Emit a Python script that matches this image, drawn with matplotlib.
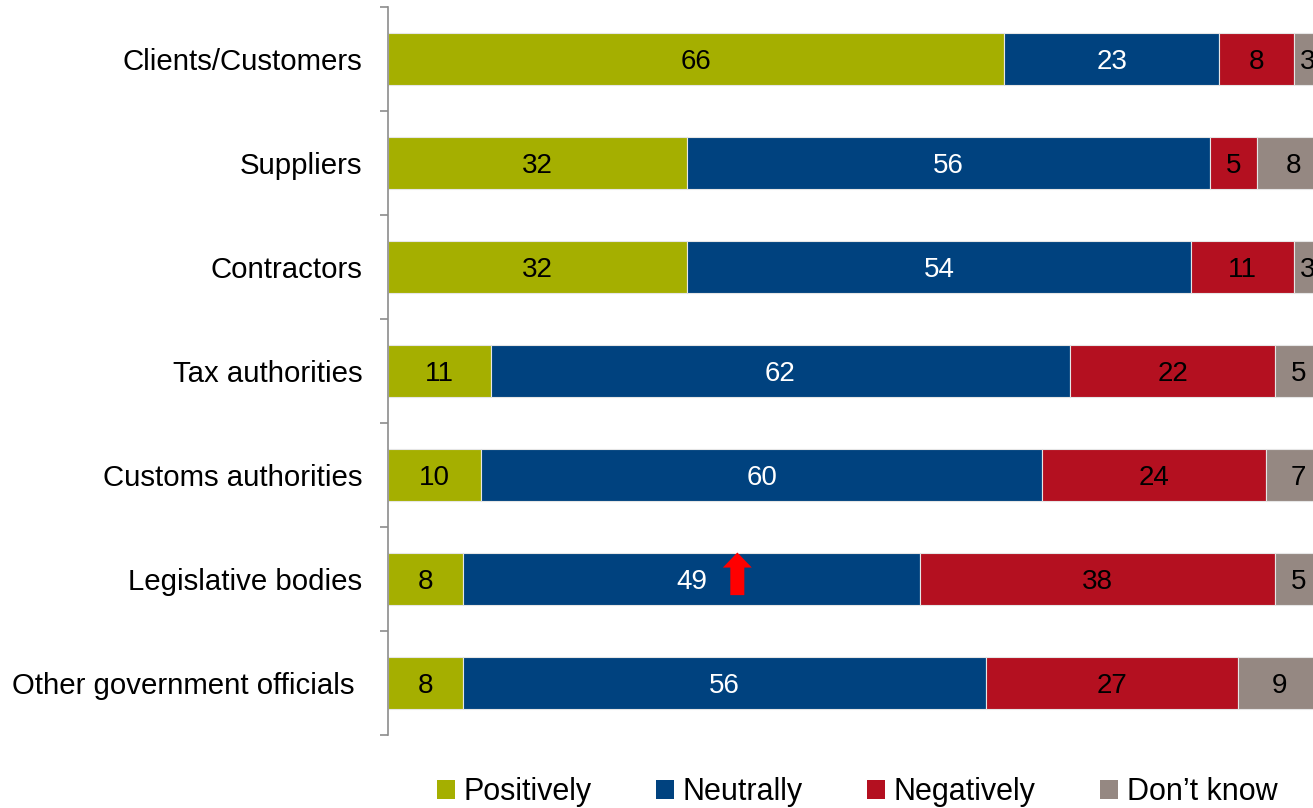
import matplotlib.pyplot as plt
from matplotlib.patches import Patch

plt.rcParams['font.family'] = ['Liberation Sans', 'DejaVu Sans']

# survey shares (%) per stakeholder group
groups = ['Clients/Customers', 'Suppliers', 'Contractors', 'Tax authorities',
          'Customs authorities', 'Legislative bodies', 'Other government officials ']
positively = [66, 32, 32, 11, 10, 8, 8]
neutrally = [23, 56, 54, 62, 60, 49, 56]
negatively = [8, 5, 11, 22, 24, 38, 27]
dont_know = [3, 8, 3, 5, 7, 5, 9]

series = ['Positively', 'Neutrally', 'Negatively', 'Don\u2019t know']
values = [positively, neutrally, negatively, dont_know]
colors = ['#A5AF00', '#00427F', '#B41020', '#958882']
text_colors = ['black', 'white', 'black', 'black']

fig = plt.figure(figsize=(13.13, 8.08), dpi=100)
# axes runs slightly past the right edge of the figure
ax = fig.add_axes([388 / 1313, 73 / 808, 934 / 1313, 728 / 808])

y = list(range(len(groups)))
left = [0] * len(groups)
for vals, col, tcol in zip(values, colors, text_colors):
    ax.barh(y, vals, left=left, height=0.5, color=col, edgecolor='#e6e6e6', linewidth=0.8)
    for i, v in enumerate(vals):
        ax.text(left[i] + v / 2, i, str(v), ha='center', va='center_baseline',
                fontsize=20, color=tcol)
    left = [l + v for l, v in zip(left, vals)]

# red arrow on the legislative bodies bar
ax.arrow(37.4, 5.155, 0, -0.41, width=1.5, head_width=3.1, head_length=0.145,
         length_includes_head=True, color='#FF0000', linewidth=0)

ax.set_xlim(0, 100)
ax.set_ylim(len(groups) - 0.5, -0.5)
ax.set_yticks(y)
ax.set_yticklabels(groups, fontsize=21.2)
ax.set_yticks([i - 0.5 for i in range(len(groups) + 1)], minor=True)
ax.tick_params(axis='y', which='major', length=0, pad=18.5)
ax.tick_params(axis='y', which='minor', length=6, width=1.2, color='#8c8c8c')
ax.set_xticks([])
for side in ['top', 'right', 'bottom']:
    ax.spines[side].set_visible(False)
ax.spines['left'].set_color('#8c8c8c')
ax.spines['left'].set_linewidth(1.2)

handles = [Patch(facecolor=c, edgecolor='none') for c in colors]
fig.legend(handles, series, loc='center', bbox_to_anchor=(857 / 1313, 16 / 808),
           ncol=4, frameon=False, fontsize=22, handlelength=0.6, handleheight=0.6,
           handletextpad=0.28, columnspacing=2.1, borderaxespad=0, borderpad=0)

fig.savefig('out.png', dpi=100)
